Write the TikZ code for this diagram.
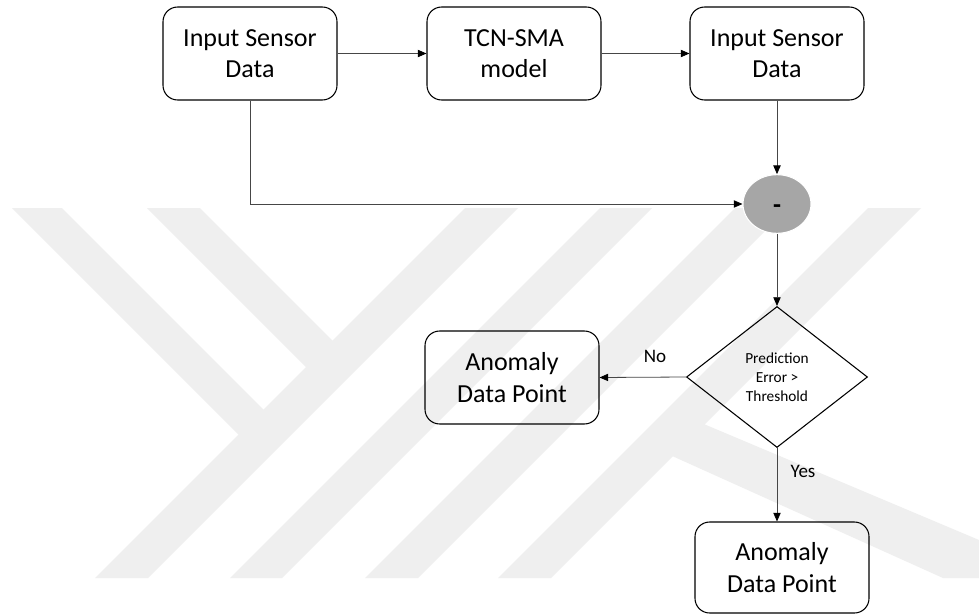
\documentclass[tikz,border=0pt]{standalone}
\usepackage{fontspec}
\setmainfont{Carlito}
\usetikzlibrary{shapes.geometric,arrows.meta}
\definecolor{wm}{RGB}{239,239,239}
\definecolor{sumgray}{RGB}{166,166,166}
\definecolor{linegray}{RGB}{70,70,70}
\begin{document}
\begin{tikzpicture}[x=0.75pt,y=-0.75pt,
  box/.style={draw=black, line width=0.8pt, rounded corners=11pt,
    minimum width=130.5pt, minimum height=69.75pt, align=center,
    inner sep=0pt, font=\fontsize{19.5}{23.6}\selectfont},
  decision/.style={diamond, draw=black, line width=0.8pt,
    minimum width=135.75pt, minimum height=105.75pt, align=center,
    inner sep=0pt, font=\fontsize{11.5}{14.25}\selectfont},
  sumnode/.style={ellipse, fill=sumgray, draw=white, line width=0.8pt,
    minimum width=51pt, minimum height=44pt, inner sep=0pt,
    font=\fontsize{19.5}{23.6}\selectfont\bfseries},
  conn/.style={draw=linegray, line width=0.6pt,
    -{Triangle[length=6.5pt,width=5.5pt,color=black]}},
  lbl/.style={font=\fontsize{14.3}{17}\selectfont, inner sep=0pt}]
\useasboundingbox (0,0) rectangle (979,614);
\fill[white] (0,0) rectangle (979,614);
% watermark
\begin{scope}[fill=wm]
\fill (12,208) -- (62,208) -- (275,421) -- (250,446) -- cycle;
\fill (147,208) -- (200,208) -- (345,353) -- (317,378) -- cycle;
\fill (465,208) -- (518,208) -- (148,578) -- (95,578) -- cycle;
\fill (600,208) -- (652,208) -- (282,578) -- (230,578) -- cycle;
\fill (735,208) -- (788,208) -- (418,578) -- (365,578) -- cycle;
\fill (868,208) -- (921,208) -- (551,578) -- (498,578) -- cycle;
\fill (680,414) -- (979,540) -- (979,578) -- (943,578) -- (650,446) -- cycle;
\end{scope}
% nodes
\node[box] (in1) at (250,53.5) {Input Sensor\\Data};
\node[box] (tcn) at (514,53.5) {TCN-SMA\\model};
\node[box] (in2) at (777,53.5) {Input Sensor\\Data};
\node[sumnode] (sub) at (777,204) {\raisebox{-7pt}[0pt][0pt]{-}};
\node[decision] (dec) at (777,377) {Prediction\\Error >\\Threshold};
\node[box] (an1) at (512,377.5) {Anomaly\\Data Point};
\node[box, minimum height=68.25pt] (an2) at (782,567.5) {Anomaly\\Data Point};
% connectors
\draw[conn] (in1) -- (tcn);
\draw[conn] (tcn) -- (in2);
\draw[conn] (in2) -- (sub);
\draw[conn] (in1.south) |- (sub.west);
\draw[conn] (sub) -- (dec);
\draw[conn] (dec.west) -- (an1.east);
\draw[conn] (dec.south) -- (dec.south |- an2.north);
\node[lbl] (no) at (655,356) {No};
\node[lbl] (yes) at (803,471) {Yes};
\end{tikzpicture}
\end{document}
